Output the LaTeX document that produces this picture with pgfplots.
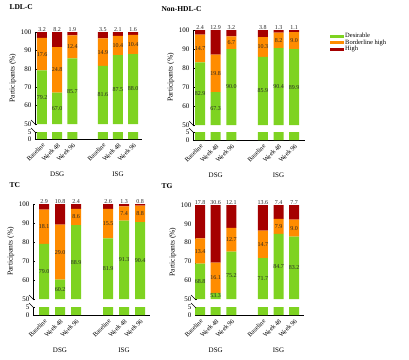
\documentclass[border=0pt]{standalone}
\usepackage{pgfplots}
\pgfplotsset{compat=1.18}
\usepackage{pgfplotstable}
\usepackage{fontspec}
\setmainfont{Liberation Serif}
\definecolor{cD}{RGB}{126,211,33}
\definecolor{cB}{RGB}{255,140,0}
\definecolor{cH}{RGB}{165,0,0}

\pgfplotstableread{
x D B H
0 79.2 17.6 3.2
1 67.0 24.8 8.2
2 85.7 12.4 1.9
4 81.6 14.9 3.5
5 87.5 10.4 2.1
6 88.0 10.4 1.6
}\ldl
\pgfplotstableread{
x D B H
0 82.9 14.7 2.4
1 67.3 19.8 12.9
2 90.0 6.7 3.2
4 85.9 10.3 3.8
5 90.4 8.2 1.3
6 89.9 9.0 1.1
}\nonhdl
\pgfplotstableread{
x D B H
0 79.0 18.1 2.9
1 60.2 29.0 10.8
2 88.9 8.6 2.4
4 81.9 15.5 2.6
5 91.3 7.4 1.3
6 90.4 8.8 0.8
}\tc
\pgfplotstableread{
x D B H
0 68.8 13.4 17.8
1 53.3 16.1 30.6
2 75.2 12.7 12.1
4 71.7 14.7 13.6
5 84.7 7.9 7.4
6 83.2 9.0 7.7
}\tg

\pgfplotsset{
  base/.style={scale only axis,
    /pgf/number format/assume math mode=true,
    tick label style={font=\fontsize{7}{8}\selectfont},
    major tick length=2pt,
    tick style={black, thin},
    axis line style={black, thin},
  },
  lbl/.style={nodes near coords={\pgfmathprintnumber[fixed,fixed zerofill,precision=1]{\pgfplotspointmeta}},
    point meta=explicit,
    every node near coord/.style={font=\fontsize{6}{6}\selectfont, text=black!85, inner sep=0.6pt}},
}

% #1 xa, #2 xe, #3 x0, #4 dx, #5 y100, #6 y50, #7 y5, #8 y0, #9 table
\newcommand\panel[9]{%
\pgfmathsetmacro\pxmn{(#1-#3)/#4}%
\pgfmathsetmacro\pxmx{(#2-#3)/#4}%
\pgfmathsetmacro\pwid{#2-#1}%
\pgfmathsetmacro\phu{#6-#5}%
\pgfmathsetmacro\phl{#8-#7}%
\begin{axis}[base, at={(#1pt,-#5pt)}, anchor=north west,
  width=\pwid pt, height=\phu pt, xmin=\pxmn, xmax=\pxmx, ymin=50, ymax=100,
  ytick={50,60,...,100}, axis x line=none, axis y line*=left,
  ybar stacked, bar width=10pt,
  ylabel={Participants (\%)}, ylabel style={font=\fontsize{7.5}{8}\selectfont, yshift=-2pt},
  after end axis/.code={\draw[thin] (rel axis cs:0,0) ++(-4pt,4pt) -- ++(5pt,-5pt);}]
\addplot[fill=cD, draw=none] table[x=x, y=D]{#9};
\addplot[fill=cB, draw=none] table[x=x, y=B]{#9};
\addplot[fill=cH, draw=none] table[x=x, y=H]{#9};
\end{axis}
\begin{axis}[base, at={(#1pt,-#5pt)}, anchor=north west,
  width=\pwid pt, height=\phu pt, xmin=\pxmn, xmax=\pxmx, ymin=50, ymax=100,
  axis lines=none, clip=false, lbl]
\addplot[draw=none, mark=none, nodes near coords align=center] table[x=x, y expr={(50+\thisrow{D})/2}, meta=D]{#9};
\addplot[draw=none, mark=none, nodes near coords align=center] table[x=x, y expr={\thisrow{D}+\thisrow{B}/2}, meta=B]{#9};
\addplot[draw=none, mark=none, nodes near coords align=vertical] table[x=x, y expr={100}, meta=H]{#9};
\end{axis}
\begin{axis}[base, at={(#1pt,-#8pt)}, anchor=south west,
  width=\pwid pt, height=\phl pt, xmin=\pxmn, xmax=\pxmx, ymin=0, ymax=5,
  ytick={0,5}, axis x line*=bottom, axis y line*=left, clip=false,
  ybar, bar width=10pt,
  xtick={0,1,2,4,5,6},
  xticklabels={Baseline, Week 48, Week 96, Baseline, Week 48, Week 96},
  x tick label style={rotate=45, anchor=north east, font=\fontsize{6.5}{7}\selectfont, inner sep=1pt},
  xtick style={draw=none},
  after end axis/.code={\draw[thin] (rel axis cs:0,1) ++(-4pt,4pt) -- ++(5pt,-5pt);}]
\addplot[fill=cD, draw=none] coordinates {(0,5) (1,5) (2,5) (4,5) (5,5) (6,5)};
\node[font=\fontsize{7}{8}\selectfont] at (axis cs:1,0) [yshift=-35pt] {DSG};
\node[font=\fontsize{7}{8}\selectfont] at (axis cs:5,0) [yshift=-35pt] {ISG};
\end{axis}
}

\begin{document}
\begin{tikzpicture}
\path[use as bounding box] (0pt,0pt) rectangle (409pt,-359pt);
\panel{35}{142}{42}{15.2}{32}{124}{132}{139}{\ldl}
\panel{193}{305}{200}{15.7}{30}{125}{132}{140}{\nonhdl}
\panel{33}{150}{44}{16}{204}{299}{307}{315}{\tc}
\panel{195}{304}{200}{15.7}{205}{299}{307}{315}{\tg}
\node[anchor=west, font=\bfseries\fontsize{7.5}{8}\selectfont] at (6pt,-7pt) {LDL-C};
\node[anchor=west, font=\bfseries\fontsize{7.5}{8}\selectfont] at (158pt,-9pt) {Non-HDL-C};
\node[anchor=west, font=\bfseries\fontsize{7.5}{8}\selectfont] at (6pt,-185pt) {TC};
\node[anchor=west, font=\bfseries\fontsize{7.5}{8}\selectfont] at (158pt,-186pt) {TG};
\begin{axis}[hide axis, scale only axis, width=10pt, height=10pt,
  at={(330pt,-32pt)}, anchor=north west, xmin=0, xmax=1, ymin=0, ymax=1,
  legend image code/.code={\fill[#1] (0pt,-1.7pt) rectangle (14pt,1.7pt);},
  legend style={at={(0,1)}, anchor=north west, draw=none, fill=none, inner sep=0pt,
    font=\fontsize{6.5}{7}\selectfont, row sep=-1.5pt, legend cell align=left,
    nodes={inner sep=1pt}}]
\addlegendimage{fill=cD, draw=none}
\addlegendentry{Desirable}
\addlegendimage{fill=cB, draw=none}
\addlegendentry{Borderline high}
\addlegendimage{fill=cH, draw=none}
\addlegendentry{High}
\end{axis}
\end{tikzpicture}
\end{document}
